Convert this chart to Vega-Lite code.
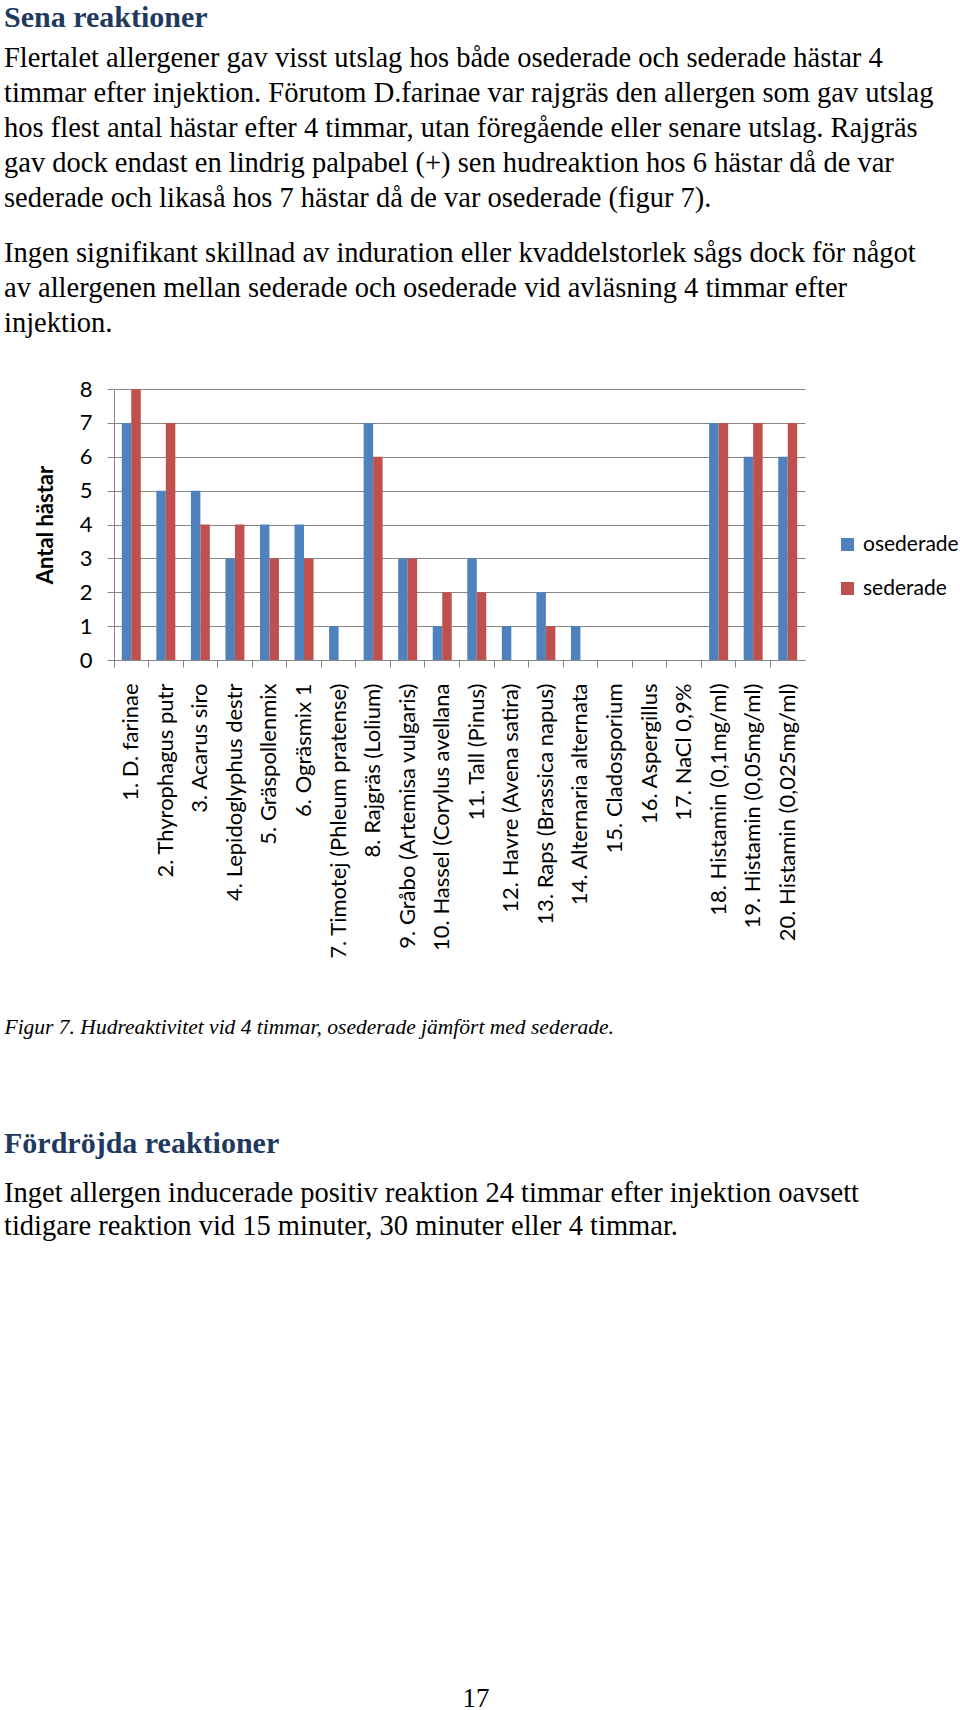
{
  "$schema": "https://vega.github.io/schema/vega-lite/v6.json",
  "background": "white",
  "padding": {"left": 4, "top": 3, "right": 0, "bottom": 0},
  "config": {
    "view": {"stroke": null},
    "font": "Lato"
  },
  "title": {
    "text": "Sena reaktioner",
    "subtitle": [
      "Flertalet allergener gav visst utslag hos både osederade och sederade hästar 4",
      "timmar efter injektion. Förutom D.farinae var rajgräs den allergen som gav utslag",
      "hos flest antal hästar efter 4 timmar, utan föregående eller senare utslag. Rajgräs",
      "gav dock endast en lindrig palpabel (+) sen hudreaktion hos 6 hästar då de var",
      "sederade och likaså hos 7 hästar då de var osederade (figur 7)."
    ],
    "anchor": "start",
    "frame": "bounds",
    "offset": 26,
    "font": "Liberation Serif",
    "fontSize": 30,
    "fontWeight": "bold",
    "color": "#1F3A60",
    "subtitleFont": "Liberation Serif",
    "subtitleFontSize": 28.5,
    "subtitleColor": "black",
    "subtitleLineHeight": 35,
    "subtitlePadding": 11
  },
  "spacing": 90,
  "vconcat": [
    {
      "width": 691,
      "height": 271,
      "title": {
        "text": [
          "Ingen signifikant skillnad av induration eller kvaddelstorlek sågs dock för något",
          "av allergenen mellan sederade och osederade vid avläsning 4 timmar efter",
          "injektion."
        ],
        "anchor": "start",
        "frame": "group",
        "dx": -110,
        "offset": 41,
        "font": "Liberation Serif",
        "fontSize": 28.5,
        "fontWeight": "normal",
        "color": "black",
        "lineHeight": 35
      },
      "data": {
        "values": [
          {"allergen": "1. D. farinae", "grupp": "osederade", "antal": 7},
          {"allergen": "1. D. farinae", "grupp": "sederade", "antal": 8},
          {"allergen": "2. Thyrophagus putr", "grupp": "osederade", "antal": 5},
          {"allergen": "2. Thyrophagus putr", "grupp": "sederade", "antal": 7},
          {"allergen": "3. Acarus siro", "grupp": "osederade", "antal": 5},
          {"allergen": "3. Acarus siro", "grupp": "sederade", "antal": 4},
          {"allergen": "4. Lepidoglyphus destr", "grupp": "osederade", "antal": 3},
          {"allergen": "4. Lepidoglyphus destr", "grupp": "sederade", "antal": 4},
          {"allergen": "5. Gräspollenmix", "grupp": "osederade", "antal": 4},
          {"allergen": "5. Gräspollenmix", "grupp": "sederade", "antal": 3},
          {"allergen": "6. Ogräsmix 1", "grupp": "osederade", "antal": 4},
          {"allergen": "6. Ogräsmix 1", "grupp": "sederade", "antal": 3},
          {"allergen": "7. Timotej (Phleum pratense)", "grupp": "osederade", "antal": 1},
          {"allergen": "7. Timotej (Phleum pratense)", "grupp": "sederade", "antal": 0},
          {"allergen": "8. Rajgräs (Lolium)", "grupp": "osederade", "antal": 7},
          {"allergen": "8. Rajgräs (Lolium)", "grupp": "sederade", "antal": 6},
          {"allergen": "9. Gråbo (Artemisa vulgaris)", "grupp": "osederade", "antal": 3},
          {"allergen": "9. Gråbo (Artemisa vulgaris)", "grupp": "sederade", "antal": 3},
          {"allergen": "10. Hassel (Corylus avellana", "grupp": "osederade", "antal": 1},
          {"allergen": "10. Hassel (Corylus avellana", "grupp": "sederade", "antal": 2},
          {"allergen": "11. Tall (Pinus)", "grupp": "osederade", "antal": 3},
          {"allergen": "11. Tall (Pinus)", "grupp": "sederade", "antal": 2},
          {"allergen": "12. Havre (Avena satira)", "grupp": "osederade", "antal": 1},
          {"allergen": "12. Havre (Avena satira)", "grupp": "sederade", "antal": 0},
          {"allergen": "13. Raps (Brassica napus)", "grupp": "osederade", "antal": 2},
          {"allergen": "13. Raps (Brassica napus)", "grupp": "sederade", "antal": 1},
          {"allergen": "14. Alternaria alternata", "grupp": "osederade", "antal": 1},
          {"allergen": "14. Alternaria alternata", "grupp": "sederade", "antal": 0},
          {"allergen": "15. Cladosporium", "grupp": "osederade", "antal": 0},
          {"allergen": "15. Cladosporium", "grupp": "sederade", "antal": 0},
          {"allergen": "16. Aspergillus", "grupp": "osederade", "antal": 0},
          {"allergen": "16. Aspergillus", "grupp": "sederade", "antal": 0},
          {"allergen": "17. NaCl 0,9%", "grupp": "osederade", "antal": 0},
          {"allergen": "17. NaCl 0,9%", "grupp": "sederade", "antal": 0},
          {"allergen": "18. Histamin (0,1mg/ml)", "grupp": "osederade", "antal": 7},
          {"allergen": "18. Histamin (0,1mg/ml)", "grupp": "sederade", "antal": 7},
          {"allergen": "19. Histamin (0,05mg/ml)", "grupp": "osederade", "antal": 6},
          {"allergen": "19. Histamin (0,05mg/ml)", "grupp": "sederade", "antal": 7},
          {"allergen": "20. Histamin (0,025mg/ml)", "grupp": "osederade", "antal": 6},
          {"allergen": "20. Histamin (0,025mg/ml)", "grupp": "sederade", "antal": 7}
        ]
      },
      "mark": {"type": "bar"},
      "encoding": {
        "x": {
          "field": "allergen",
          "type": "nominal",
          "sort": null,
          "scale": {"paddingInner": 0, "paddingOuter": 0},
          "axis": {
            "title": "Figur 7. Hudreaktivitet vid 4 timmar, osederade jämfört med sederade.",
            "titleFont": "Liberation Serif",
            "titleFontStyle": "italic",
            "titleFontWeight": "normal",
            "titleFontSize": 21.5,
            "titleColor": "black",
            "titleX": -110,
            "titleY": 373,
            "titleAlign": "left",
            "titleAnchor": "start",
            "titleBaseline": "alphabetic",
            "labelAngle": 270,
            "labelAlign": "right",
            "labelBaseline": "middle",
            "labelFont": "Lato",
            "labelFontSize": 22,
            "labelColor": "black",
            "labelPadding": 16,
            "labelLimit": 400,
            "bandPosition": 0,
            "tickSize": 7,
            "tickColor": "#868686",
            "domainColor": "#868686",
            "grid": false
          }
        },
        "xOffset": {
          "field": "grupp",
          "type": "nominal",
          "sort": ["osederade", "sederade"],
          "scale": {"paddingInner": 0, "paddingOuter": 0.82}
        },
        "y": {
          "field": "antal",
          "type": "quantitative",
          "scale": {"domain": [0, 8], "nice": false},
          "axis": {
            "title": "Antal hästar",
            "titleFont": "Lato",
            "titleFontWeight": "bold",
            "titleFontSize": 22,
            "titleColor": "black",
            "titlePadding": 22,
            "values": [0, 1, 2, 3, 4, 5, 6, 7, 8],
            "labelFont": "Lato",
            "labelFontSize": 22,
            "labelColor": "black",
            "labelPadding": 15,
            "tickSize": 7,
            "tickColor": "#868686",
            "domainColor": "#868686",
            "gridColor": "#868686",
            "grid": true
          }
        },
        "color": {
          "field": "grupp",
          "type": "nominal",
          "scale": {"domain": ["osederade", "sederade"], "range": ["#4F81BD", "#C0504D"]},
          "legend": {
            "title": null,
            "orient": "none",
            "legendX": 723,
            "legendY": 145,
            "symbolType": "square",
            "symbolSize": 169,
            "symbolStrokeWidth": 0,
            "symbolOpacity": 1,
            "labelFont": "Lato",
            "labelFontSize": 21,
            "labelColor": "black",
            "labelOffset": 5,
            "rowPadding": 22
          }
        }
      }
    },
    {
      "width": 691,
      "height": 354,
      "data": {"values": [{}]},
      "mark": {"type": "text"},
      "encoding": {"text": {"value": ""}},
      "title": {
        "text": "Fördröjda reaktioner",
        "subtitle": [
          "Inget allergen inducerade positiv reaktion 24 timmar efter injektion oavsett",
          "tidigare reaktion vid 15 minuter, 30 minuter eller 4 timmar."
        ],
        "anchor": "start",
        "frame": "group",
        "dx": -110,
        "offset": 0,
        "font": "Liberation Serif",
        "fontSize": 30,
        "fontWeight": "bold",
        "color": "#1F3A60",
        "subtitleFont": "Liberation Serif",
        "subtitleFontSize": 28.5,
        "subtitleColor": "black",
        "subtitleLineHeight": 33,
        "subtitlePadding": 19.6
      }
    },
    {
      "width": 691,
      "height": 1,
      "data": {"values": [{}]},
      "mark": {"type": "text"},
      "encoding": {"text": {"value": ""}},
      "title": {
        "text": "17",
        "anchor": "middle",
        "frame": "group",
        "dx": 16.5,
        "offset": 0,
        "font": "Liberation Serif",
        "fontSize": 27,
        "fontWeight": "normal",
        "color": "black"
      }
    }
  ]
}
